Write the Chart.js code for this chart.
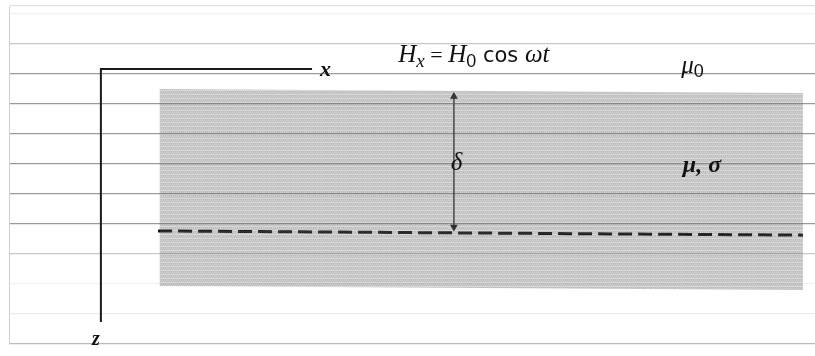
<!DOCTYPE html>
<html>
<head>
<meta charset="utf-8">
<script src="https://cdn.jsdelivr.net/npm/chart.js@4.4.0/dist/chart.umd.min.js"></script>
<style>
  html, body { margin: 0; padding: 0; background: #fff; overflow: hidden; }
  canvas { display: block; }
</style>
</head>
<body>
<canvas id="skin" width="815" height="356"></canvas>
<script>
// ===== Data (x: 0..100 across, z: depth in grid rows, downward) =====
const slabX = [18.7, 98.5, 98.5, 18.7, 18.7];
const slabZ = [2.5, 2.63, 9.2, 9.07, 2.5];

const axesX = [37.6, 11.4, 11.4];
const axesZ = [1.83, 1.83, 10.27];

const depthX = [18.5, 98.5];
const depthZ = [7.23, 7.37];

const arrowX = [55.2, 55.2];
const arrowZ = [2.75, 7.1];

const labelText = ["x", "z", "δ", "μ, σ"];
const labelX = [38.6, 10.3, 54.8, 83.6];
const labelZ = [2.06, 11.03, 5.2, 5.27];

const gridTicks = [-0.27, 0, 1, 2, 3, 4, 5, 6, 7, 8, 9, 10, 11];
const gridShade = ["#e2e2e2", "#f0f0f0", "#c6c6c6", "#9a9a9a", "#9a9a9a", "#9a9a9a",
                   "#9a9a9a", "#9a9a9a", "#9a9a9a", "#c8c8c8", "#f3f3f3", "#ececec", "#bcbcbc"];

const pts = (xs, zs) => xs.map((x, i) => ({ x: x, y: zs[i] }));

// halftone-ish fill, a fixed tile
function slabPattern() {
    const tile = document.createElement("canvas");
    tile.width = 6;
    tile.height = 4;
    const t = tile.getContext("2d");
    const shades = [
        [0.30, 0.48, 0.36, 0.44, 0.30, 0.40],
        [0.46, 0.34, 0.42, 0.32, 0.50, 0.36],
        [0.24, 0.28, 0.26, 0.30, 0.24, 0.28],
        [0.40, 0.46, 0.34, 0.48, 0.38, 0.44]
    ];
    shades.forEach((row, y) => row.forEach((a, x) => {
        t.fillStyle = "rgba(110,110,110," + a + ")";
        t.fillRect(x, y, 1, 1);
    }));
    return t.createPattern(tile, "repeat");
}

// ===== Text drawn on top =====
const serif = "'Liberation Serif', 'DejaVu Serif', serif";

const textPlugin = {
    id: "diagramText",
    afterDatasetsDraw(chart) {
        const ctx = chart.ctx;
        const sx = chart.scales.x, sy = chart.scales.y;
        ctx.save();
        ctx.fillStyle = "#111";
        ctx.textBaseline = "alphabetic";

        const fonts = [
            "italic bold 22px " + serif,
            "italic bold 20px " + serif,
            "italic 25px " + serif,
            "italic bold 24px " + serif
        ];
        labelText.forEach((t, i) => {
            ctx.font = fonts[i];
            ctx.fillText(t, sx.getPixelForValue(labelX[i]), sy.getPixelForValue(labelZ[i]));
        });

        // H_x = H_0 cos ωt
        let px = sx.getPixelForValue(48.3);
        const base = sy.getPixelForValue(1.6);
        const parts = [
            ["H", "italic 25px " + serif, 0],
            ["x", "italic 19px " + serif, 5],
            [" = ", "22px " + serif, 0],
            ["H", "italic 25px " + serif, 0],
            ["0", "18px 'Liberation Sans', sans-serif", 5],
            [" cos ", "21px 'DejaVu Sans', sans-serif", 0],
            ["ωt", "italic 25px " + serif, 0]
        ];
        parts.forEach(p => {
            ctx.font = p[1];
            ctx.fillText(p[0], px, base + p[2]);
            px += ctx.measureText(p[0]).width;
        });

        // μ0
        let mx = sx.getPixelForValue(83.4);
        const mb = sy.getPixelForValue(1.97);
        ctx.font = "italic 25px " + serif;
        ctx.fillText("μ", mx, mb);
        mx += ctx.measureText("μ").width;
        ctx.font = "18px 'Liberation Sans', sans-serif";
        ctx.fillText("0", mx, mb + 4);

        ctx.restore();
    }
};

new Chart(document.getElementById("skin"), {
    type: "scatter",
    data: {
        datasets: [
            {
                label: "conductor",
                data: pts(slabX, slabZ),
                showLine: true,
                fill: "shape",
                backgroundColor: slabPattern(),
                borderWidth: 0,
                pointRadius: 0
            },
            {
                label: "skin depth",
                data: pts(depthX, depthZ),
                showLine: true,
                borderColor: "#000",
                borderWidth: 3,
                borderDash: [14, 6],
                pointRadius: 0
            },
            {
                label: "axes",
                data: pts(axesX, axesZ),
                showLine: true,
                borderColor: "#1a1a1a",
                borderWidth: 2,
                pointRadius: 0
            },
            {
                label: "delta",
                data: pts(arrowX, arrowZ),
                showLine: true,
                borderColor: "#111",
                borderWidth: 1.3,
                pointStyle: "triangle",
                pointRadius: 4.5,
                pointRotation: [0, 180],
                pointBackgroundColor: "#111",
                pointBorderColor: "#111",
                pointBorderWidth: 0
            }
        ]
    },
    options: {
        responsive: false,
        animation: false,
        layout: { autoPadding: false, padding: { left: 9, right: 0, top: 6, bottom: 12 } },
        plugins: {
            legend: { display: false },
            tooltip: { enabled: false }
        },
        scales: {
            x: {
                type: "linear",
                display: false,
                min: 0,
                max: 100
            },
            y: {
                type: "linear",
                reverse: true,
                min: -0.27,
                max: 11,
                afterBuildTicks: axis => {
                    axis.ticks = gridTicks.map(v => ({ value: v }));
                },
                ticks: { display: false },
                grid: {
                    drawTicks: false,
                    lineWidth: 1.3,
                    color: c => gridShade[c.index] || "#ccc"
                },
                border: { display: true, color: "#d0d0d0", width: 1 }
            }
        }
    },
    plugins: [textPlugin]
});
</script>
</body>
</html>
